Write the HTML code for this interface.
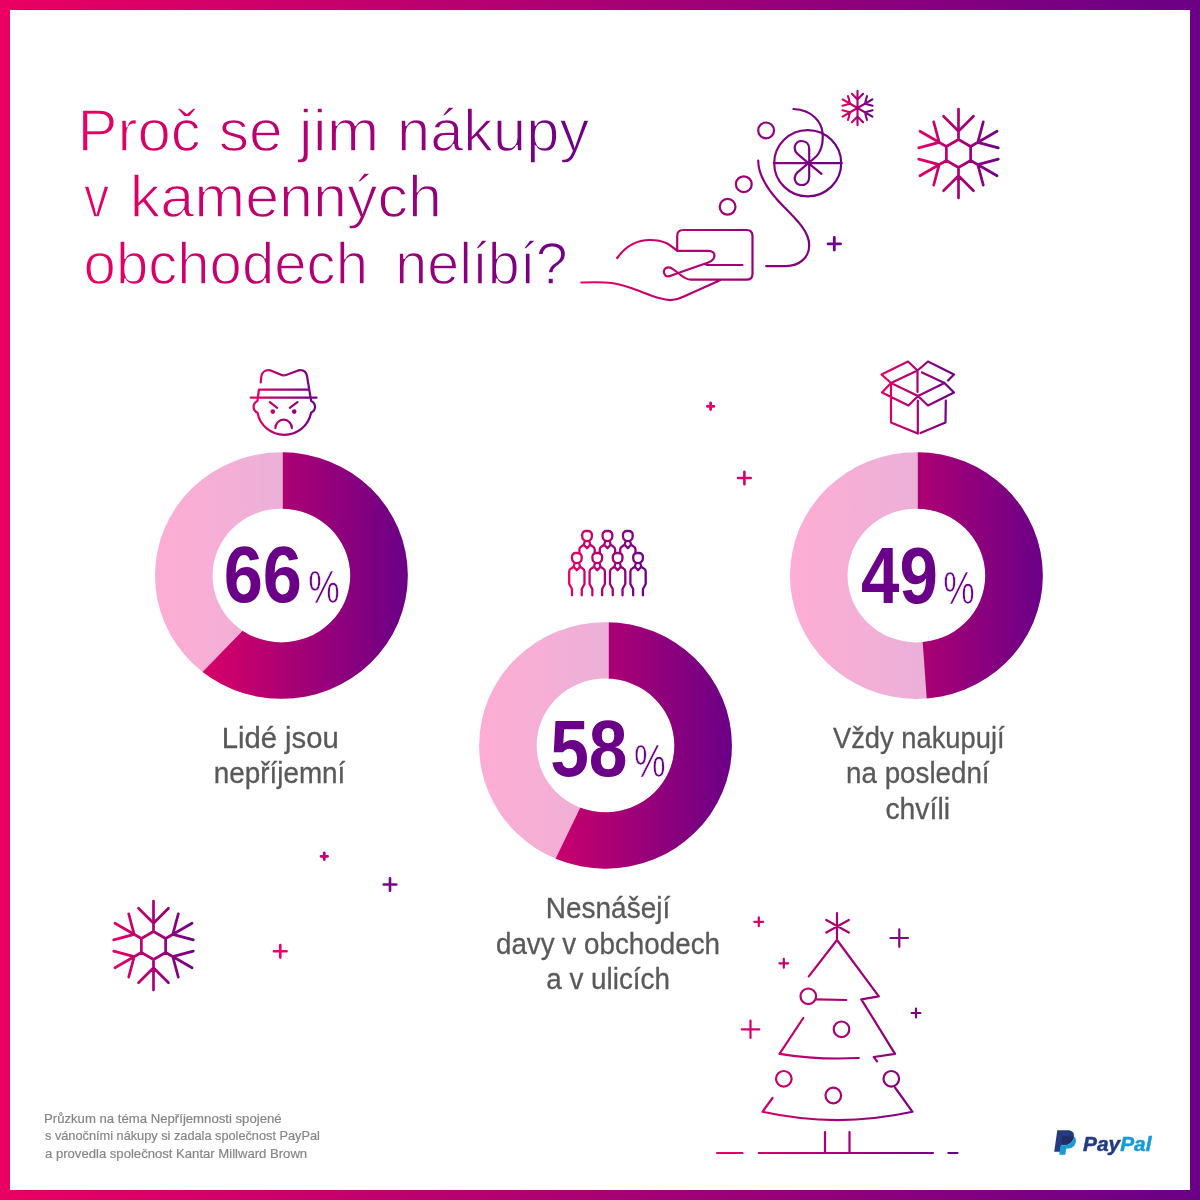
<!DOCTYPE html>
<html lang="cs"><head><meta charset="utf-8"><title>Proč se jim nákupy v kamenných obchodech nelíbí?</title>
<style>
html,body{margin:0;padding:0;background:#fff}
#page{position:relative;width:1200px;height:1200px;overflow:hidden;background:linear-gradient(90deg,#ea0062 0%,#6a0087 100%)}
#inner{position:absolute;left:10px;top:10px;width:1180px;height:1180px;background:#fff}
svg{position:absolute;left:0;top:0;display:block}
text{white-space:pre}
</style></head><body>
<div id="page"><div id="inner"></div>
<svg width="1200" height="1200" viewBox="0 0 1200 1200">
<defs>
<linearGradient id="g1" gradientUnits="userSpaceOnUse" x1="83" y1="0" x2="588" y2="0"><stop offset="0" stop-color="#ea0062"/><stop offset="1" stop-color="#6a0087"/></linearGradient>
<linearGradient id="g2" gradientUnits="userSpaceOnUse" x1="582" y1="0" x2="842" y2="0"><stop offset="0" stop-color="#ea0062"/><stop offset="1" stop-color="#6a0087"/></linearGradient>
<linearGradient id="g3" gradientUnits="userSpaceOnUse" x1="842.5" y1="0" x2="872.5" y2="0"><stop offset="0" stop-color="#ea0062"/><stop offset="1" stop-color="#6a0087"/></linearGradient>
<linearGradient id="g4" gradientUnits="userSpaceOnUse" x1="916.5" y1="0" x2="1000.5" y2="0"><stop offset="0" stop-color="#ea0062"/><stop offset="1" stop-color="#6a0087"/></linearGradient>
<linearGradient id="g5" gradientUnits="userSpaceOnUse" x1="111.5" y1="0" x2="195.5" y2="0"><stop offset="0" stop-color="#ea0062"/><stop offset="1" stop-color="#6a0087"/></linearGradient>
<linearGradient id="g6" gradientUnits="userSpaceOnUse" x1="154.99999999999997" y1="0" x2="407.79999999999995" y2="0"><stop offset="0" stop-color="#f2005f"/><stop offset="1" stop-color="#6a0087"/></linearGradient>
<clipPath id="c7"><path d="M155,575.55 A126.4,123.25 0 1 0 407.8,575.55 A126.4,123.25 0 1 0 155,575.55Z M212.55,575.55 A68.85,66.85 0 1 1 350.25,575.55 A68.85,66.85 0 1 1 212.55,575.55Z" clip-rule="evenodd"/></clipPath>
<linearGradient id="g8" gradientUnits="userSpaceOnUse" x1="154.99999999999997" y1="0" x2="407.79999999999995" y2="0"><stop offset="0" stop-color="#feadd3"/><stop offset="1" stop-color="#dab3dd"/></linearGradient>
<linearGradient id="g9" gradientUnits="userSpaceOnUse" x1="479.1" y1="0" x2="731.9" y2="0"><stop offset="0" stop-color="#f2005f"/><stop offset="1" stop-color="#6a0087"/></linearGradient>
<clipPath id="c10"><path d="M479.1,745.45 A126.4,123.25 0 1 0 731.9,745.45 A126.4,123.25 0 1 0 479.1,745.45Z M536.65,745.45 A68.85,66.85 0 1 1 674.35,745.45 A68.85,66.85 0 1 1 536.65,745.45Z" clip-rule="evenodd"/></clipPath>
<linearGradient id="g11" gradientUnits="userSpaceOnUse" x1="479.1" y1="0" x2="731.9" y2="0"><stop offset="0" stop-color="#feadd3"/><stop offset="1" stop-color="#dab3dd"/></linearGradient>
<linearGradient id="g12" gradientUnits="userSpaceOnUse" x1="790.0" y1="0" x2="1042.8" y2="0"><stop offset="0" stop-color="#f2005f"/><stop offset="1" stop-color="#6a0087"/></linearGradient>
<clipPath id="c13"><path d="M790,575.55 A126.4,123.25 0 1 0 1042.8,575.55 A126.4,123.25 0 1 0 790,575.55Z M847.55,575.55 A68.85,66.85 0 1 1 985.25,575.55 A68.85,66.85 0 1 1 847.55,575.55Z" clip-rule="evenodd"/></clipPath>
<linearGradient id="g14" gradientUnits="userSpaceOnUse" x1="790.0" y1="0" x2="1042.8" y2="0"><stop offset="0" stop-color="#feadd3"/><stop offset="1" stop-color="#dab3dd"/></linearGradient>
<linearGradient id="g15" gradientUnits="userSpaceOnUse" x1="250" y1="0" x2="317" y2="0"><stop offset="0" stop-color="#ea0062"/><stop offset="1" stop-color="#6a0087"/></linearGradient>
<linearGradient id="g16" gradientUnits="userSpaceOnUse" x1="568" y1="0" x2="646" y2="0"><stop offset="0" stop-color="#ea0062"/><stop offset="1" stop-color="#6a0087"/></linearGradient>
<linearGradient id="g17" gradientUnits="userSpaceOnUse" x1="881" y1="0" x2="954" y2="0"><stop offset="0" stop-color="#ea0062"/><stop offset="1" stop-color="#6a0087"/></linearGradient>
<linearGradient id="g18" gradientUnits="userSpaceOnUse" x1="717" y1="0" x2="957" y2="0"><stop offset="0" stop-color="#ea0062"/><stop offset="1" stop-color="#6a0087"/></linearGradient>
</defs>
<g><text x="77.57" y="151.3" textLength="123.23" lengthAdjust="spacingAndGlyphs" font-family="'Liberation Sans',sans-serif" font-size="59" font-weight="400" font-style="normal" fill="url(#g1)" stroke="#fff" stroke-width="1.4">Proč</text><text x="218.69" y="151.3" textLength="64.05" lengthAdjust="spacingAndGlyphs" font-family="'Liberation Sans',sans-serif" font-size="59" font-weight="400" font-style="normal" fill="url(#g1)" stroke="#fff" stroke-width="1.4">se</text><text x="298.79" y="151.3" textLength="80.57" lengthAdjust="spacingAndGlyphs" font-family="'Liberation Sans',sans-serif" font-size="59" font-weight="400" font-style="normal" fill="url(#g1)" stroke="#fff" stroke-width="1.4">jim</text><text x="397.01" y="151.3" textLength="192.21" lengthAdjust="spacingAndGlyphs" font-family="'Liberation Sans',sans-serif" font-size="59" font-weight="400" font-style="normal" fill="url(#g1)" stroke="#fff" stroke-width="1.4">nákupy</text></g>
<g><text x="83.95" y="217.3" textLength="25.23" lengthAdjust="spacingAndGlyphs" font-family="'Liberation Sans',sans-serif" font-size="59" font-weight="400" font-style="normal" fill="url(#g1)" stroke="#fff" stroke-width="1.4">v</text><text x="129.81" y="217.3" textLength="312.19" lengthAdjust="spacingAndGlyphs" font-family="'Liberation Sans',sans-serif" font-size="59" font-weight="400" font-style="normal" fill="url(#g1)" stroke="#fff" stroke-width="1.4">kamenných</text></g>
<g><text x="83.58" y="283.6" textLength="284.42" lengthAdjust="spacingAndGlyphs" font-family="'Liberation Sans',sans-serif" font-size="59" font-weight="400" font-style="normal" fill="url(#g1)" stroke="#fff" stroke-width="1.4">obchodech</text><text x="395.36" y="283.6" textLength="172.29" lengthAdjust="spacingAndGlyphs" font-family="'Liberation Sans',sans-serif" font-size="59" font-weight="400" font-style="normal" fill="url(#g1)" stroke="#fff" stroke-width="1.4">nelíbí?</text></g>
<path d="M581.3,282.5 C596,282 606,282.3 611.7,283 C622,284.5 630,287.5 636.7,290 C646,293.5 653,296.5 660,298.3 C665,299.8 668,300.2 671.7,300 C676,299.7 680,298.3 683.3,296.7 L720,280.3 M617.2,258 C625,247 636,240 650,240 C658,240 663,241.5 666.7,243.3 C671,245.5 674,248.5 677.2,250.8 M677.2,250.8 H708.3 C712.5,250.8 714.6,253 714.4,256 C714.2,259 712,261 708.3,262.5 L686.7,270 L672,275.3 C669.5,276.5 667,277 665.5,275.5 C663,273 663.5,269.5 666,268 C668.5,266.5 671,267.5 673.5,269.5 L680,274.5 C684,277.8 687,279.7 691,279.7 H746.5 Q752.5,279.7 752.5,273.7 V236 Q752.5,230 746.5,230 H683.2 Q677.2,230 677.2,236 V250.8 M706.7,265 H742.5" fill="none" stroke="url(#g2)" stroke-width="2.2" stroke-linecap="round" stroke-linejoin="round"/>
<path d="M758.2,160.5 C758.2,178 772,195 784.3,207.2 C797,220 809.2,232 809.2,245.2 C809.2,258 799,266.1 785.9,266.1 H766.1 M793.4,109 C802,109.5 810,112.5 815,117.5 C819,121.5 822,126.5 822.5,132.5 C823,138 822.8,143 821.3,147.5 C820,151.5 818,155 815,157.5 C812.5,159.8 810.5,161.3 808.4,163.1 M773.8,163.1 H841.8 M808.4,163.1 L821.5,173.9 M808.4,163.1 L797.5,153.8 C792.5,149.5 794.5,141 801.7,141 C806.5,141 809.2,144.5 809.2,149 L809.2,177 C809.2,181.5 806.5,185 801.7,185 C794.5,185 792.5,176.5 797.5,172.3 Z" fill="none" stroke="url(#g2)" stroke-width="2.2" stroke-linecap="round" stroke-linejoin="round"/>
<g fill="none" stroke="url(#g2)" stroke-width="2.2"><ellipse cx="807.7" cy="163.2" rx="33.5" ry="33.1"/><circle cx="766.1" cy="130.4" r="7.9"/><circle cx="743.8" cy="184.2" r="7.9"/><circle cx="727.6" cy="206.8" r="7.9"/></g>
<path d="M828,243.8 H840.6 M834.3,237.5 V250.1" fill="none" stroke="#72008a" stroke-width="2.8" stroke-linecap="round"/>
<path d="M857.5,108 L857.5,90.8 M857.5,99.4 L851.91,93.81 M857.5,99.4 L863.09,93.81 M857.5,108 L872.4,99.4 M864.95,103.7 L866.99,96.07 M864.95,103.7 L872.58,105.74 M857.5,108 L872.4,116.6 M864.95,112.3 L872.58,110.26 M864.95,112.3 L866.99,119.93 M857.5,108 L857.5,125.2 M857.5,116.6 L863.09,122.19 M857.5,116.6 L851.91,122.19 M857.5,108 L842.6,116.6 M850.05,112.3 L848.01,119.93 M850.05,112.3 L842.42,110.26 M857.5,108 L842.6,99.4 M850.05,103.7 L842.42,105.74 M850.05,103.7 L848.01,96.07" fill="none" stroke="url(#g3)" stroke-width="2.1" stroke-linecap="round"/>
<path d="M958.5,139.5 L970.62,146.5 L970.62,160.5 L958.5,167.5 L946.38,160.5 L946.38,146.5Z M958.5,139.5 L958.5,109 M958.5,131.2 L943.51,116.21 M958.5,131.2 L973.49,116.21 M970.62,146.5 L997.04,131.25 M977.81,142.35 L983.3,121.87 M977.81,142.35 L998.29,147.84 M970.62,160.5 L997.04,175.75 M977.81,164.65 L998.29,159.16 M977.81,164.65 L983.3,185.13 M958.5,167.5 L958.5,198 M958.5,175.8 L973.49,190.79 M958.5,175.8 L943.51,190.79 M946.38,160.5 L919.96,175.75 M939.19,164.65 L933.7,185.13 M939.19,164.65 L918.71,159.16 M946.38,146.5 L919.96,131.25 M939.19,142.35 L918.71,147.84 M939.19,142.35 L933.7,121.87" fill="none" stroke="url(#g4)" stroke-width="2.7" stroke-linecap="round" stroke-linejoin="round"/>
<path d="M153.5,931.5 L165.62,938.5 L165.62,952.5 L153.5,959.5 L141.38,952.5 L141.38,938.5Z M153.5,931.5 L153.5,901 M153.5,923.2 L138.51,908.21 M153.5,923.2 L168.49,908.21 M165.62,938.5 L192.04,923.25 M172.81,934.35 L178.3,913.87 M172.81,934.35 L193.29,939.84 M165.62,952.5 L192.04,967.75 M172.81,956.65 L193.29,951.16 M172.81,956.65 L178.3,977.13 M153.5,959.5 L153.5,990 M153.5,967.8 L168.49,982.79 M153.5,967.8 L138.51,982.79 M141.38,952.5 L114.96,967.75 M134.19,956.65 L128.7,977.13 M134.19,956.65 L113.71,951.16 M141.38,938.5 L114.96,923.25 M134.19,934.35 L113.71,939.84 M134.19,934.35 L128.7,913.87" fill="none" stroke="url(#g5)" stroke-width="2.7" stroke-linecap="round" stroke-linejoin="round"/>
<path d="M155,575.55 A126.4,123.25 0 1 0 407.8,575.55 A126.4,123.25 0 1 0 155,575.55Z M212.55,575.55 A68.85,66.85 0 1 1 350.25,575.55 A68.85,66.85 0 1 1 212.55,575.55Z" fill-rule="evenodd" fill="url(#g8)"/>
<path d="M282.8,447.3 H412.8 V720.54 H155.38 L155.38,720.54 L282.8,589.58 Z" fill="url(#g6)" clip-path="url(#c7)"/>
<text x="223.63" y="602.4" textLength="78.23" lengthAdjust="spacingAndGlyphs" font-family="'Liberation Sans',sans-serif" font-size="79" font-weight="700" font-style="normal" fill="#6a0087">66</text>
<text x="308.15" y="603.2" textLength="31.51" lengthAdjust="spacingAndGlyphs" font-family="'Liberation Sans',sans-serif" font-size="47" font-weight="400" font-style="normal" fill="#6a0087" stroke="#fff" stroke-width="0.7">%</text>
<path d="M479.1,745.45 A126.4,123.25 0 1 0 731.9,745.45 A126.4,123.25 0 1 0 479.1,745.45Z M536.65,745.45 A68.85,66.85 0 1 1 674.35,745.45 A68.85,66.85 0 1 1 536.65,745.45Z" fill-rule="evenodd" fill="url(#g11)"/>
<path d="M608.8,617.2 H736.9 V918.42 H526.76 L526.76,918.42 L608.8,748.58 Z" fill="url(#g9)" clip-path="url(#c10)"/>
<text x="550.14" y="776.3" textLength="77.31" lengthAdjust="spacingAndGlyphs" font-family="'Liberation Sans',sans-serif" font-size="79" font-weight="700" font-style="normal" fill="#6a0087">58</text>
<text x="634.04" y="777.4" textLength="31.72" lengthAdjust="spacingAndGlyphs" font-family="'Liberation Sans',sans-serif" font-size="47" font-weight="400" font-style="normal" fill="#6a0087" stroke="#fff" stroke-width="0.7">%</text>
<path d="M790,575.55 A126.4,123.25 0 1 0 1042.8,575.55 A126.4,123.25 0 1 0 790,575.55Z M847.55,575.55 A68.85,66.85 0 1 1 985.25,575.55 A68.85,66.85 0 1 1 847.55,575.55Z" fill-rule="evenodd" fill="url(#g14)"/>
<path d="M917.8,447.3 H1047.8 V765.5 H931.5 L931.5,765.5 L917.8,573.7 Z" fill="url(#g12)" clip-path="url(#c13)"/>
<text x="861.02" y="603.3" textLength="76.89" lengthAdjust="spacingAndGlyphs" font-family="'Liberation Sans',sans-serif" font-size="79" font-weight="700" font-style="normal" fill="#6a0087">49</text>
<text x="943.15" y="604.2" textLength="31.51" lengthAdjust="spacingAndGlyphs" font-family="'Liberation Sans',sans-serif" font-size="47" font-weight="400" font-style="normal" fill="#6a0087" stroke="#fff" stroke-width="0.7">%</text>
<path d="M260.7,382.5 L261.4,376 C262,372.5 265,370.2 268.5,370.2 C270,370.2 271,370.5 272,370.9 L280.4,374.6 C282.5,375.6 284.7,375.6 286.8,374.7 L297,371 C298,370.5 299,370.2 300.1,370.2 C303.8,370.2 306.5,372.8 307.1,376.5 L311.1,400.9 M258.9,389.6 H308.4 M258.9,389.6 L257.5,400.9 M250.7,397.7 H316.5 M257.5,400.9 A6.5,6.5 0 0 0 257.5,412.8 A27.3,27.3 0 0 0 311.1,412.8 A6.5,6.5 0 0 0 311.1,400.9 M269.9,402.1 L277.2,407.9 M297.4,402.1 L289.8,407.9 M275.4,428.1 A8.25,8.4 0 0 1 291.9,428.1" fill="none" stroke="url(#g15)" stroke-width="2.2" stroke-linecap="round" stroke-linejoin="round"/>
<circle cx="272.8" cy="411.6" r="2.3" fill="url(#g15)"/><circle cx="294.2" cy="411.6" r="2.3" fill="url(#g15)"/>
<g fill="none" stroke="url(#g16)" stroke-width="2.3" stroke-linecap="round" stroke-linejoin="round"><path d="M572,556.8 A3.8,3.8 0 0 1 575.8,553 H577.9 A3.8,3.8 0 0 1 581.7,556.8 V558.3 A4.85,4.85 0 0 1 572,558.3 Z M574.65,562.9 L573.65,566.7 M579.05,562.9 L580.05,566.7 M571.95,595.3 V589 L569.2,584 V571.5 Q569.2,569.2 571.35,568.2 L573.65,566.7 L576.85,570.2 L580.05,566.7 L582.35,568.2 Q584.5,569.2 584.5,571.5 V584 L581.75,589 V595.3"/><path d="M592.4,556.8 A3.8,3.8 0 0 1 596.2,553 H598.3 A3.8,3.8 0 0 1 602.1,556.8 V558.3 A4.85,4.85 0 0 1 592.4,558.3 Z M595.05,562.9 L594.05,566.7 M599.45,562.9 L600.45,566.7 M592.35,595.3 V589 L589.6,584 V571.5 Q589.6,569.2 591.75,568.2 L594.05,566.7 L597.25,570.2 L600.45,566.7 L602.75,568.2 Q604.9,569.2 604.9,571.5 V584 L602.15,589 V595.3"/><path d="M612.8,556.8 A3.8,3.8 0 0 1 616.6,553 H618.7 A3.8,3.8 0 0 1 622.5,556.8 V558.3 A4.85,4.85 0 0 1 612.8,558.3 Z M615.45,562.9 L614.45,566.7 M619.85,562.9 L620.85,566.7 M612.75,595.3 V589 L610,584 V571.5 Q610,569.2 612.15,568.2 L614.45,566.7 L617.65,570.2 L620.85,566.7 L623.15,568.2 Q625.3,569.2 625.3,571.5 V584 L622.55,589 V595.3"/><path d="M633.2,556.8 A3.8,3.8 0 0 1 637,553 H639.1 A3.8,3.8 0 0 1 642.9,556.8 V558.3 A4.85,4.85 0 0 1 633.2,558.3 Z M635.85,562.9 L634.85,566.7 M640.25,562.9 L641.25,566.7 M633.15,595.3 V589 L630.4,584 V571.5 Q630.4,569.2 632.55,568.2 L634.85,566.7 L638.05,570.2 L641.25,566.7 L643.55,568.2 Q645.7,569.2 645.7,571.5 V584 L642.95,589 V595.3"/><path d="M582.2,534.8 A3.8,3.8 0 0 1 586,531 H588.1 A3.8,3.8 0 0 1 591.9,534.8 V536.3 A4.85,4.85 0 0 1 582.2,536.3 Z M584.85,540.9 L583.85,544.7 M589.25,540.9 L590.25,544.7 M579.4,553 V549.5 Q579.4,547.2 581.55,546.2 L583.85,544.7 L587.05,548.2 L590.25,544.7 L592.55,546.2 Q594.7,547.2 594.7,549.5 V553"/><path d="M602.6,534.8 A3.8,3.8 0 0 1 606.4,531 H608.5 A3.8,3.8 0 0 1 612.3,534.8 V536.3 A4.85,4.85 0 0 1 602.6,536.3 Z M605.25,540.9 L604.25,544.7 M609.65,540.9 L610.65,544.7 M599.8,553 V549.5 Q599.8,547.2 601.95,546.2 L604.25,544.7 L607.45,548.2 L610.65,544.7 L612.95,546.2 Q615.1,547.2 615.1,549.5 V553"/><path d="M623,534.8 A3.8,3.8 0 0 1 626.8,531 H628.9 A3.8,3.8 0 0 1 632.7,534.8 V536.3 A4.85,4.85 0 0 1 623,536.3 Z M625.65,540.9 L624.65,544.7 M630.05,540.9 L631.05,544.7 M620.2,553 V549.5 Q620.2,547.2 622.35,546.2 L624.65,544.7 L627.85,548.2 L631.05,544.7 L633.35,546.2 Q635.5,547.2 635.5,549.5 V553"/></g>
<path d="M881.5,374.5 L908,361.5 L917.5,370.5 L891,383 Z M917.5,370.5 L928,361.5 L954,374.5 L948,380.5 M922,372.5 L944.5,383 M891,383 L918,396 L944.5,383 M917.5,370.5 V392 M891,383 L882,392.5 L908.5,405.5 L918,396 L928,405.5 L954,392.5 L944.5,383 M891,383 V422.5 L917.8,433.5 V400.5 M945.8,400.5 L945.5,422.5 L920.5,433" fill="none" stroke="url(#g17)" stroke-width="2.2" stroke-linecap="round" stroke-linejoin="round"/>
<text x="221.68" y="747.6" textLength="117.13" lengthAdjust="spacingAndGlyphs" font-family="'Liberation Sans',sans-serif" font-size="29" font-weight="400" font-style="normal" fill="#595959" stroke="#595959" stroke-width="0.3">Lidé jsou</text>
<text x="213.78" y="783.3" textLength="131.54" lengthAdjust="spacingAndGlyphs" font-family="'Liberation Sans',sans-serif" font-size="29" font-weight="400" font-style="normal" fill="#595959" stroke="#595959" stroke-width="0.3">nepříjemní</text>
<text x="545.87" y="917.9" textLength="124.3" lengthAdjust="spacingAndGlyphs" font-family="'Liberation Sans',sans-serif" font-size="29" font-weight="400" font-style="normal" fill="#595959" stroke="#595959" stroke-width="0.3">Nesnášejí</text>
<text x="495.94" y="953.7" textLength="224.07" lengthAdjust="spacingAndGlyphs" font-family="'Liberation Sans',sans-serif" font-size="29" font-weight="400" font-style="normal" fill="#595959" stroke="#595959" stroke-width="0.3">davy v obchodech</text>
<text x="546.24" y="989" textLength="123.73" lengthAdjust="spacingAndGlyphs" font-family="'Liberation Sans',sans-serif" font-size="29" font-weight="400" font-style="normal" fill="#595959" stroke="#595959" stroke-width="0.3">a v ulicích</text>
<text x="833" y="747.6" textLength="171.56" lengthAdjust="spacingAndGlyphs" font-family="'Liberation Sans',sans-serif" font-size="29" font-weight="400" font-style="normal" fill="#595959" stroke="#595959" stroke-width="0.3">Vždy nakupují</text>
<text x="846.09" y="783" textLength="143.48" lengthAdjust="spacingAndGlyphs" font-family="'Liberation Sans',sans-serif" font-size="29" font-weight="400" font-style="normal" fill="#595959" stroke="#595959" stroke-width="0.3">na poslední</text>
<text x="885.42" y="819" textLength="64.63" lengthAdjust="spacingAndGlyphs" font-family="'Liberation Sans',sans-serif" font-size="29" font-weight="400" font-style="normal" fill="#595959" stroke="#595959" stroke-width="0.3">chvíli</text>
<text x="43.99" y="1123" textLength="237.62" lengthAdjust="spacingAndGlyphs" font-family="'Liberation Sans',sans-serif" font-size="13" font-weight="400" font-style="normal" fill="#868686" stroke="#868686" stroke-width="0.2">Průzkum na téma Nepříjemnosti spojené</text>
<text x="45" y="1140.2" textLength="274.88" lengthAdjust="spacingAndGlyphs" font-family="'Liberation Sans',sans-serif" font-size="13" font-weight="400" font-style="normal" fill="#868686" stroke="#868686" stroke-width="0.2">s vánočními nákupy si zadala společnost PayPal</text>
<text x="45" y="1157.5" textLength="262.14" lengthAdjust="spacingAndGlyphs" font-family="'Liberation Sans',sans-serif" font-size="13" font-weight="400" font-style="normal" fill="#868686" stroke="#868686" stroke-width="0.2">a provedla společnost Kantar Millward Brown</text>
<path d="M707.3,406.3 H713.9 M710.6,403 V409.6" fill="none" stroke="#e6006a" stroke-width="2.8" stroke-linecap="round"/>
<path d="M738.1,478 H750.7 M744.4,471.7 V484.3" fill="none" stroke="#d6006c" stroke-width="2.6" stroke-linecap="round"/>
<path d="M321,856.3 H327.6 M324.3,853 V859.6" fill="none" stroke="#c80078" stroke-width="2.8" stroke-linecap="round"/>
<path d="M383.7,884.5 H396.3 M390,878.2 V890.8" fill="none" stroke="#7a0088" stroke-width="2.6" stroke-linecap="round"/>
<path d="M274,951.3 H286.6 M280.3,945 V957.6" fill="none" stroke="#ee0066" stroke-width="2.6" stroke-linecap="round"/>
<path d="M837,913 V938.8 M826.3,920 L848.8,932.5 M848.8,920 L826.3,932.5 M808.8,976.3 L837,940 L878.8,996.3 L861.3,999.3 L895,1053.8 L873.8,1057 L877,1061.3 M816.3,999.3 L846.3,1000 M803.3,1018 L779.5,1053.8 Q817,1060 858.8,1058 M895,1087.5 L912.5,1111.8 Q837,1128.3 762.5,1111.8 L772.5,1098 M825,1132 V1153 M849.5,1132 V1153 M717,1153 H742.5 M758.8,1153 H933 M948.3,1153 H957.5 M754.4,921.8 H763.2 M758.8,917.4 V926.2 M779.4,963.3 H788.2 M783.8,958.9 V967.7 M911.6,1013 H920.4 M916,1008.6 V1017.4 M890.5,938 H908 M899.3,929.3 V946.8 M741.8,1029.3 H759.3 M750.5,1020.5 V1038" fill="none" stroke="url(#g18)" stroke-width="2.2" stroke-linecap="round" stroke-linejoin="round"/>
<g fill="none" stroke="url(#g18)" stroke-width="2.2"><circle cx="808.3" cy="996.3" r="7.8"/><circle cx="841.5" cy="1029.3" r="7.8"/><circle cx="783.8" cy="1078.8" r="7.8"/><circle cx="833.3" cy="1095.5" r="7.8"/><circle cx="891.3" cy="1078.8" r="7.8"/></g>
<path d="M1057.3,1130.3 H1067.5 C1072.3,1130.3 1074.6,1132.8 1073.9,1136.8 C1072.9,1142.6 1069,1145.6 1063.3,1145.6 H1061.1 L1060.1,1151.8 H1054.2 Z" fill="#253b80"/>
<path d="M1073.8,1136.4 C1075.6,1137.6 1076.3,1139.6 1075.8,1142.2 C1074.9,1146.6 1071.6,1148.6 1067.2,1148.6 H1066.4 L1065.3,1154.8 H1059.2 L1060.8,1145.6 H1063.3 C1069,1145.6 1072.9,1142.6 1073.9,1136.8 Z" fill="#179bd7"/>
<path d="M1062.2,1136.3 H1072.8 C1073.2,1136.3 1073.6,1136.3 1073.9,1136.6 C1073,1141 1070,1143.5 1065.5,1143.5 H1061 Z" fill="#222d65"/>
<text x="1083" y="1151" font-family="'Liberation Sans',sans-serif" font-weight="700" font-style="italic" font-size="19.5" textLength="68.5" lengthAdjust="spacingAndGlyphs"><tspan fill="#253b80" stroke="#253b80" stroke-width="0.5">Pay</tspan><tspan fill="#179bd7" stroke="#179bd7" stroke-width="0.5">Pal</tspan></text>
</svg>
</div>
</body></html>
